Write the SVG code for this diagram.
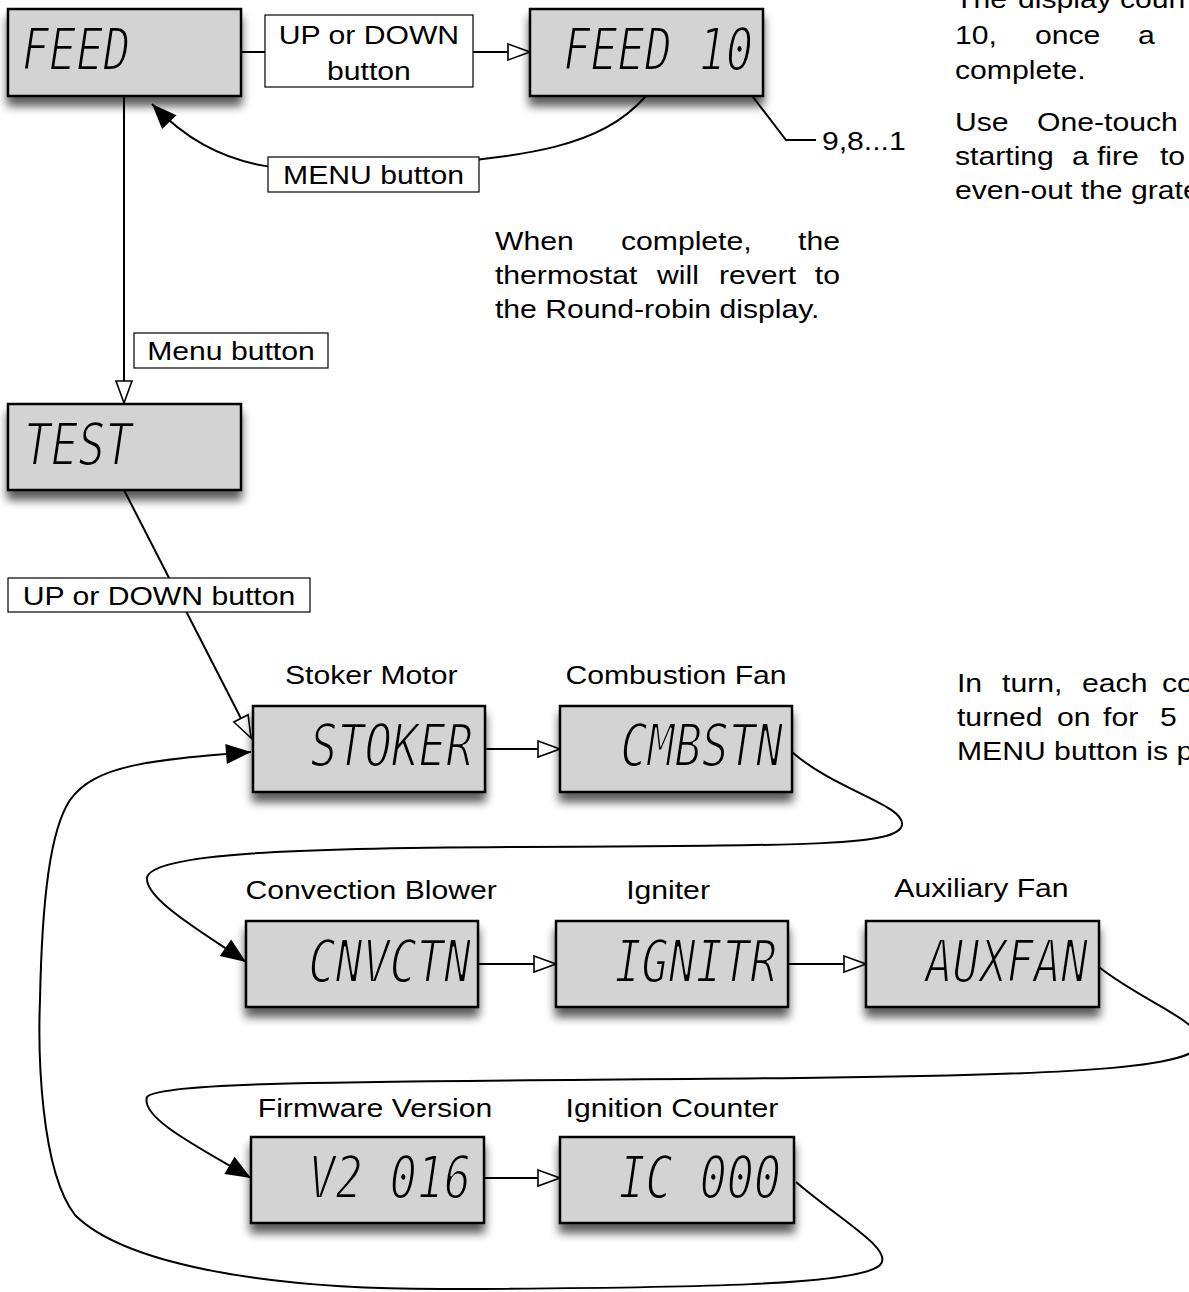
<svg xmlns="http://www.w3.org/2000/svg" width="1189" height="1292" viewBox="0 0 1189 1292">
<defs>
<style>
.box{fill:#d3d3d3;stroke:#000;stroke-width:2.5;filter:url(#sh)}
.lcd{font-family:"DejaVu Sans Mono",monospace;font-style:oblique;font-size:45px;fill:#000;stroke:#d3d3d3;stroke-width:1.6px}
.lab{fill:#fff;stroke:#000;stroke-width:1.2}
.t{font-family:"Liberation Sans",Arial,sans-serif;font-size:26px;fill:#000}
.c{fill:none;stroke:#000;stroke-width:2}
.m{text-anchor:middle}
.e{text-anchor:end}
</style>
<filter id="sh" x="-10%" y="-10%" width="130%" height="160%">
<feGaussianBlur in="SourceAlpha" stdDeviation="5"/>
<feOffset dx="0" dy="9" result="o"/>
<feComponentTransfer><feFuncA type="linear" slope="0.65"/></feComponentTransfer>
<feMerge><feMergeNode/><feMergeNode in="SourceGraphic"/></feMerge>
</filter>
<marker id="ho" markerUnits="userSpaceOnUse" markerWidth="26" markerHeight="20" refX="22" refY="9" orient="auto" overflow="visible">
<path d="M0,1 L22,9 L0,17 Z" fill="#fff" stroke="#000" stroke-width="1.6"/>
</marker>
<marker id="fi" markerUnits="userSpaceOnUse" markerWidth="28" markerHeight="22" refX="25" refY="10" orient="auto" overflow="visible">
<path d="M0,0 L25,10 L0,20 Z" fill="#000"/>
</marker>
</defs>
<rect width="1189" height="1292" fill="#fff"/>

<g id="connectors">
<path class="c" d="M 241 52 L 530 52" marker-end="url(#ho)"/>
<path class="c" d="M 646 96 C 600 148, 530 156, 400 167 C 290 175, 220 175, 152 104" marker-end="url(#fi)"/>
<path class="c" d="M 124 96 L 124 403" marker-end="url(#ho)"/>
<path class="c" d="M 124 490 L 251 738" marker-end="url(#ho)"/>
<path class="c" d="M 485 749 L 560 749" marker-end="url(#ho)"/>
<path class="c" d="M 792 752 C 835 790, 905 805, 902 825 C 898 845, 820 846, 520 847 C 300 848, 150 853, 147 878 C 145 900, 210 937, 246 962" marker-end="url(#fi)"/>
<path class="c" d="M 478 964 L 556 964" marker-end="url(#ho)"/>
<path class="c" d="M 788 964 L 866 964" marker-end="url(#ho)"/>
<path class="c" d="M 1099 967 C 1140 1000, 1200 1020, 1200 1042 C 1200 1066, 1100 1075, 800 1078 C 400 1082, 160 1080, 147 1097 C 140 1118, 200 1148, 251 1178" marker-end="url(#fi)"/>
<path class="c" d="M 484 1178 L 560 1178" marker-end="url(#ho)"/>
<path class="c" d="M 796 1182 C 840 1220, 895 1250, 880 1265 C 860 1285, 700 1288, 450 1289 C 250 1290, 120 1260, 75 1215 C 40 1170, 38 1050, 40 1000 C 42 900, 50 830, 70 800 C 95 765, 150 760, 251 752" marker-end="url(#fi)"/>
<path class="c" d="M 740 80 L 786 140 L 816 140"/>
<rect class="lab" x="265" y="15" width="208" height="72"/>
<rect class="lab" x="268" y="157" width="211" height="35"/>
<rect class="lab" x="134" y="333" width="194" height="35"/>
<rect class="lab" x="8" y="578" width="302" height="34"/>
</g>

<g id="node-feed"><rect class="box" x="8" y="9" width="233" height="87"/><text class="lcd" transform="translate(22,70) scale(1,1.3)">FEED</text></g>
<g id="node-feed10"><rect class="box" x="530" y="9" width="233" height="87"/><text class="lcd e" transform="translate(753,70) scale(1,1.3)">FEED 10</text></g>
<g id="node-test"><rect class="box" x="8" y="404" width="233" height="86"/><text class="lcd" transform="translate(24,465) scale(1,1.3)">TEST</text></g>
<g id="node-stoker"><rect class="box" x="253" y="706" width="232" height="86"/><text class="lcd e" transform="translate(473,766) scale(1,1.3)">STOKER</text></g>
<g id="node-cmbstn"><rect class="box" x="560" y="706" width="232" height="86"/><text class="lcd e" transform="translate(783,766) scale(1,1.3)">CMBSTN</text></g>
<g id="node-cnvctn"><rect class="box" x="246" y="921" width="232" height="86"/><text class="lcd e" transform="translate(471,982) scale(1,1.3)">CNVCTN</text></g>
<g id="node-ignitr"><rect class="box" x="556" y="921" width="232" height="86"/><text class="lcd e" transform="translate(777,982) scale(1,1.3)">IGNITR</text></g>
<g id="node-auxfan"><rect class="box" x="866" y="921" width="233" height="86"/><text class="lcd e" transform="translate(1088,982) scale(1,1.3)">AUXFAN</text></g>
<g id="node-fw"><rect class="box" x="251" y="1137" width="233" height="86"/><text class="lcd e" transform="translate(471,1198) scale(1,1.3)">V2 016</text></g>
<g id="node-ic"><rect class="box" x="560" y="1137" width="234" height="86"/><text class="lcd e" transform="translate(781,1198) scale(1,1.3)">IC 000</text></g>

<g id="texts" class="t" transform="scale(1.16 1)">
<text class="m" x="318.1" y="44">UP or DOWN</text>
<text class="m" x="318.1" y="80">button</text>
<text class="m" x="322" y="184">MENU button</text>
<text class="m" x="199.1" y="360">Menu button</text>
<text class="m" x="137.1" y="605">UP or DOWN button</text>
<text x="708.6" y="150">9,8...1</text>
<text y="250"><tspan x="426.7">When</tspan><tspan x="535.3">complete,</tspan></text>
<text class="e" x="724.1" y="250">the</text>
<text y="284"><tspan x="426.7">thermostat</tspan><tspan x="566.4">will</tspan><tspan x="619.8">revert</tspan></text>
<text class="e" x="724.1" y="284">to</text>
<text x="426.7" y="318">the Round-robin display.</text>
<text y="8"><tspan x="823.3">The</tspan><tspan x="877.6">display</tspan><tspan x="965.5">coun</tspan></text>
<text y="44"><tspan x="823.3">10,</tspan><tspan x="892.2">once</tspan><tspan x="981">a</tspan></text>
<text x="823.3" y="79">complete.</text>
<text y="131"><tspan x="823.3">Use</tspan><tspan x="894">One-touch</tspan></text>
<text y="165"><tspan x="823.3">starting</tspan><tspan x="924.1">a</tspan><tspan x="945.7">fire</tspan><tspan x="1000">to</tspan></text>
<text x="823.3" y="199">even-out the grate</text>
<text y="692"><tspan x="825">In</tspan><tspan x="863.8">turn,</tspan><tspan x="932.8">each</tspan><tspan x="1001.7">co</tspan></text>
<text y="726"><tspan x="825">turned</tspan><tspan x="911.2">on</tspan><tspan x="950.9">for</tspan><tspan x="1000">5</tspan></text>
<text x="825" y="760">MENU button is p</text>
<text class="m" x="320" y="684">Stoker Motor</text>
<text class="m" x="582.8" y="684">Combustion Fan</text>
<text class="m" x="320" y="899">Convection Blower</text>
<text class="m" x="575.9" y="899">Igniter</text>
<text class="m" x="846.1" y="897">Auxiliary Fan</text>
<text class="m" x="323.3" y="1117">Firmware Version</text>
<text class="m" x="579.3" y="1117">Ignition Counter</text>
</g>
</svg>
